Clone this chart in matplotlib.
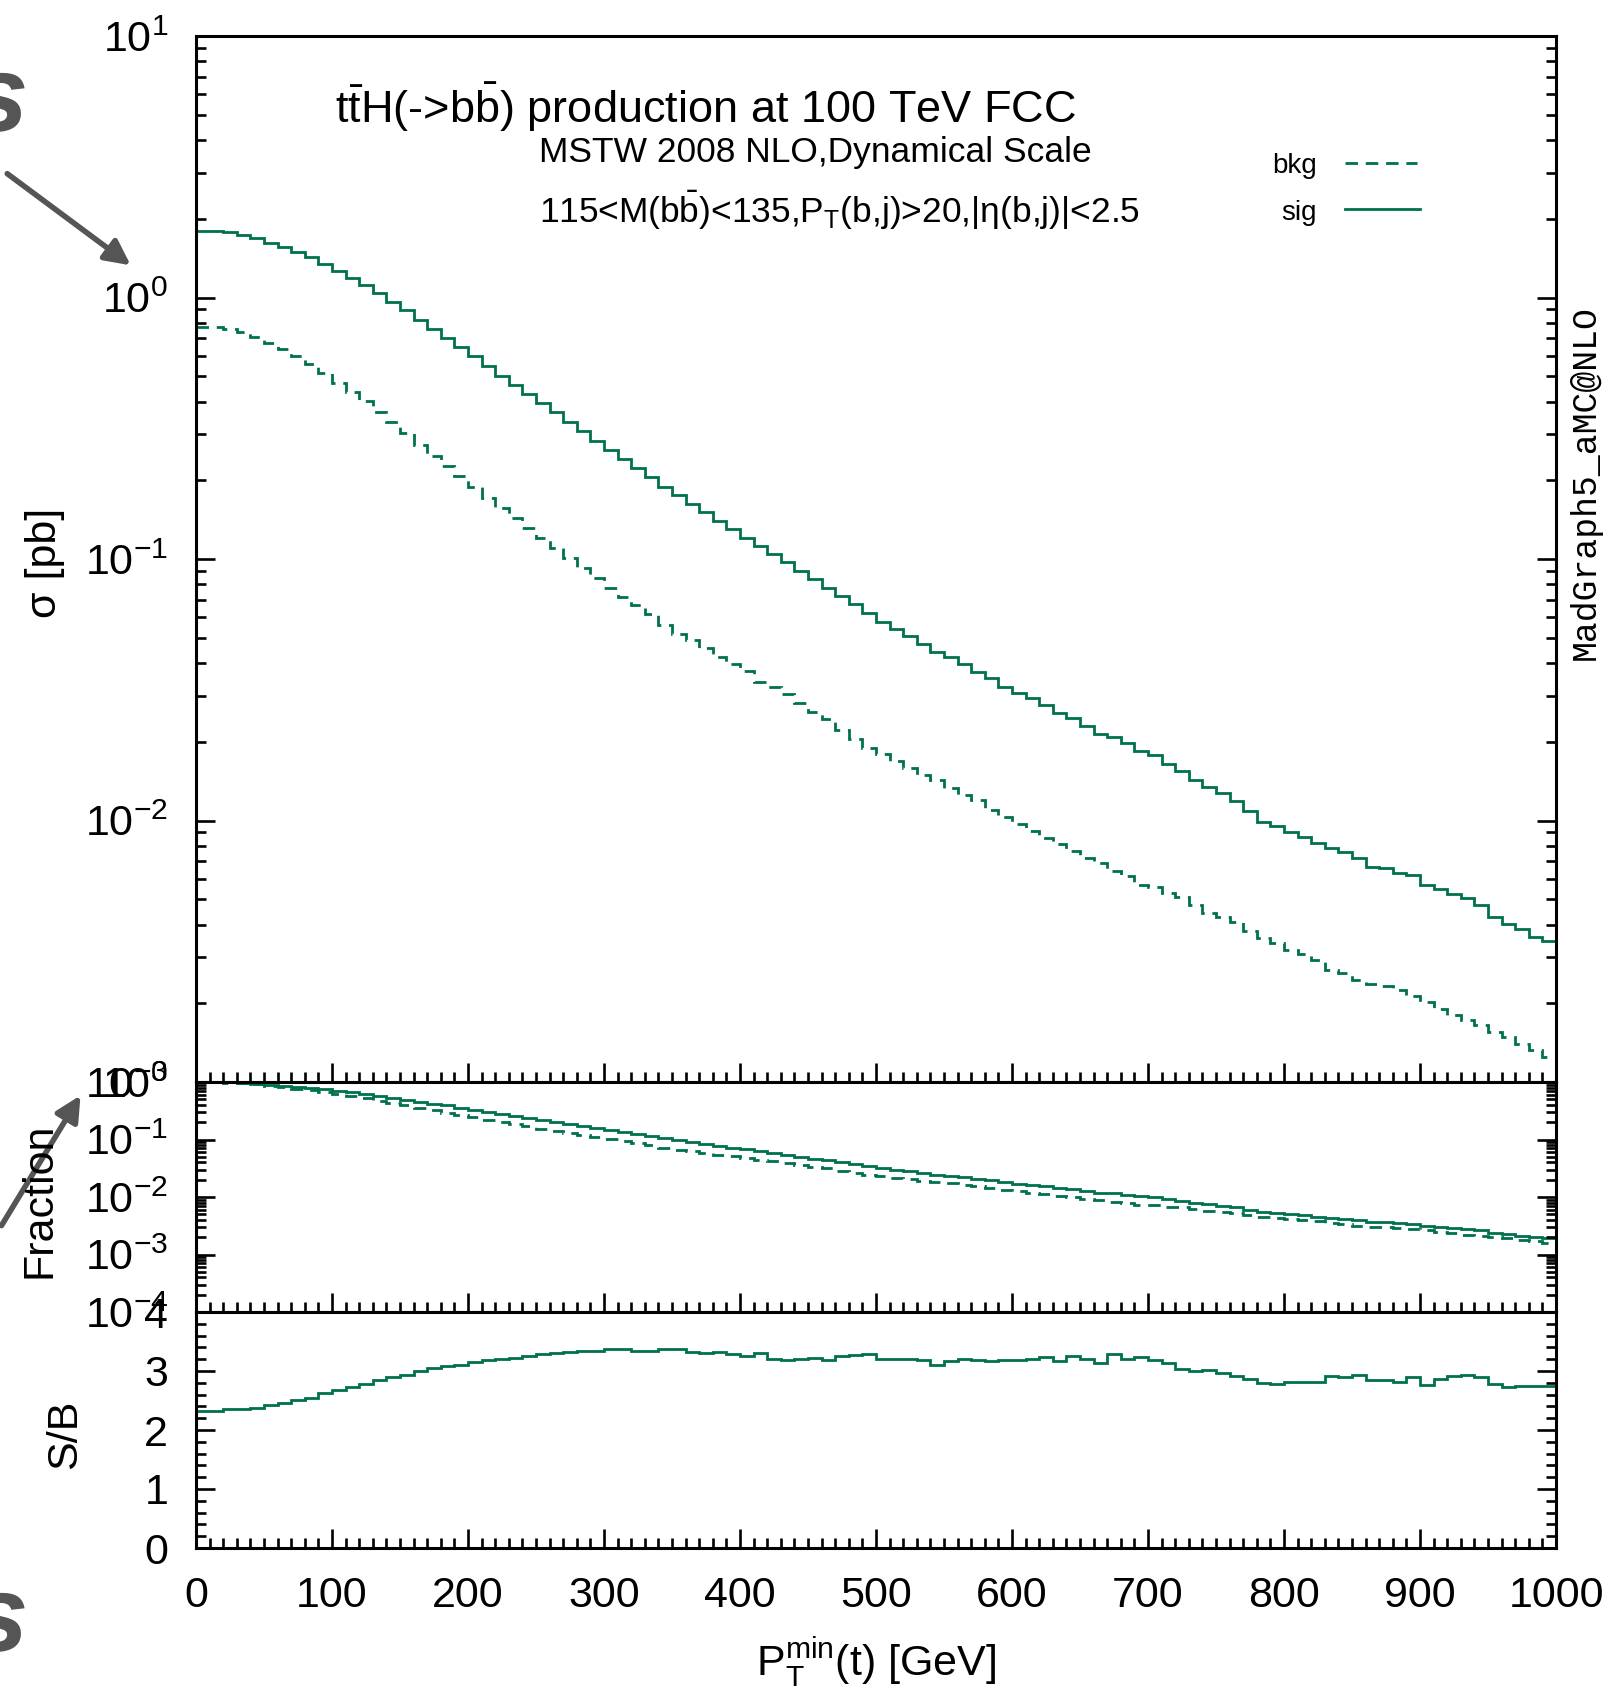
import numpy as np
import matplotlib
matplotlib.use('Agg')
import matplotlib.pyplot as plt
from matplotlib.ticker import MultipleLocator, LogLocator, NullFormatter
from matplotlib.patches import FancyArrowPatch

# cumulative cross sections sigma(pT > pT_min), 10 GeV bins from 0 to 1000
bin_edges = list(range(0, 1001, 10))

sig = [1.80, 1.794, 1.773, 1.739, 1.685, 1.620, 1.557, 1.498, 1.423, 1.342,
       1.265, 1.188, 1.116, 1.040, 0.965, 0.893, 0.822, 0.757, 0.703, 0.645,
       0.596, 0.547, 0.503, 0.462, 0.427, 0.395, 0.365, 0.335, 0.308, 0.283,
       0.262, 0.242, 0.223, 0.205, 0.189, 0.175, 0.1622, 0.1507, 0.1400, 0.1301,
       0.1208, 0.1122, 0.1042, 0.0970, 0.0901, 0.0837, 0.0778, 0.0723, 0.0671, 0.0624,
       0.0576, 0.0539, 0.0507, 0.0472, 0.0442, 0.0421, 0.0397, 0.0371, 0.0350, 0.0325,
       0.0308, 0.0293, 0.0277, 0.0258, 0.0247, 0.0229, 0.0215, 0.0209, 0.0197, 0.0185,
       0.0178, 0.0165, 0.0154, 0.0143, 0.0134, 0.0127, 0.0119, 0.01087, 0.00985, 0.00950,
       0.00907, 0.00861, 0.00819, 0.00783, 0.00760, 0.00716, 0.00665, 0.00659, 0.00630, 0.00621,
       0.00567, 0.00547, 0.00522, 0.00507, 0.00477, 0.00427, 0.00403, 0.00383, 0.00357, 0.00345]

bkg = [0.774, 0.771, 0.755, 0.736, 0.708, 0.669, 0.636, 0.596, 0.557, 0.513,
       0.472, 0.436, 0.402, 0.366, 0.333, 0.304, 0.274, 0.248, 0.2275, 0.207,
       0.188, 0.171, 0.1567, 0.1433, 0.1310, 0.1200, 0.1105, 0.1007, 0.0923, 0.0846,
       0.0775, 0.0717, 0.0668, 0.0614, 0.0560, 0.0518, 0.0488, 0.0455, 0.0422, 0.0396,
       0.0372, 0.0340, 0.0324, 0.0304, 0.0282, 0.0260, 0.0244, 0.0222, 0.0205, 0.0190,
       0.01800, 0.01685, 0.01588, 0.01496, 0.01430, 0.01335, 0.01251, 0.01196, 0.01100, 0.01030,
       0.00971, 0.00914, 0.00856, 0.00816, 0.00764, 0.00720, 0.00689, 0.00639, 0.00611, 0.00567,
       0.00559, 0.00527, 0.00511, 0.00477, 0.00444, 0.00427, 0.00409, 0.00379, 0.00354, 0.00340,
       0.00320, 0.00308, 0.00293, 0.00269, 0.00261, 0.00245, 0.00237, 0.00233, 0.00224, 0.00213,
       0.00203, 0.00191, 0.00180, 0.00172, 0.00165, 0.00155, 0.00148, 0.00140, 0.00132, 0.00125]

sb = [2.33, 2.33, 2.35, 2.36, 2.38, 2.42, 2.45, 2.51, 2.55, 2.62,
      2.68, 2.73, 2.78, 2.84, 2.90, 2.94, 3.00, 3.05, 3.09, 3.11,
      3.16, 3.19, 3.21, 3.22, 3.26, 3.29, 3.30, 3.33, 3.34, 3.34,
      3.37, 3.37, 3.34, 3.34, 3.37, 3.37, 3.33, 3.31, 3.32, 3.28,
      3.25, 3.30, 3.21, 3.19, 3.20, 3.22, 3.19, 3.25, 3.27, 3.29,
      3.21, 3.20, 3.20, 3.18, 3.11, 3.17, 3.20, 3.18, 3.17, 3.18,
      3.19, 3.21, 3.24, 3.17, 3.25, 3.20, 3.14, 3.28, 3.20, 3.23,
      3.19, 3.14, 3.03, 3.00, 3.01, 2.97, 2.91, 2.87, 2.80, 2.78,
      2.81, 2.81, 2.81, 2.91, 2.89, 2.93, 2.84, 2.84, 2.81, 2.90,
      2.77, 2.86, 2.91, 2.93, 2.90, 2.78, 2.73, 2.75, 2.74, 2.75]

x_ticks = [0, 100, 200, 300, 400, 500, 600, 700, 800, 900, 1000]

plt.rcParams['font.family'] = ['Liberation Sans', 'DejaVu Sans']
plt.rcParams['mathtext.fontset'] = 'custom'
plt.rcParams['mathtext.rm'] = 'Liberation Sans'
plt.rcParams['mathtext.it'] = 'Liberation Sans'
plt.rcParams['mathtext.bf'] = 'Liberation Sans:bold'
plt.rcParams['mathtext.default'] = 'regular'

W, H = 1616, 1691
green = '#00714f'
grey = '#555555'
dash = (0, (4.5, 2.8))


def fx(x):
    return x / W


def fy(y):
    return 1 - y / H


def axbox(top, bottom, left=196, right=1556):
    return [fx(left), fy(bottom), (right - left) / W, (bottom - top) / H]


def style_axis(ax):
    for s in ax.spines.values():
        s.set_linewidth(2.2)
    ax.tick_params(which='both', direction='in', top=False, right=True,
                   width=1.9, labelsize=31, pad=20)
    ax.tick_params(which='major', length=14)
    ax.tick_params(which='minor', length=7)
    ax.set_xlim(0, 1000)
    ax.set_xticks(x_ticks)
    ax.xaxis.set_minor_locator(MultipleLocator(10))


fig = plt.figure(figsize=(W / 100, H / 100), dpi=100)

# main panel
ax1 = fig.add_axes(axbox(36, 1082))
ax1.stairs(bkg, bin_edges, baseline=None, color=green, lw=2.0, linestyle=dash)
ax1.stairs(sig, bin_edges, baseline=None, color=green, lw=2.0)
ax1.set_yscale('log')
ax1.set_ylim(1e-3, 10)
style_axis(ax1)
ax1.yaxis.set_major_locator(LogLocator(base=10, numticks=10))
ax1.yaxis.set_minor_locator(LogLocator(base=10, subs=np.arange(2, 10), numticks=50))
ax1.yaxis.set_minor_formatter(NullFormatter())
ax1.tick_params(labelbottom=False)

# fraction panel
sig_frac = np.array(sig) / sig[0]
bkg_frac = np.array(bkg) / bkg[0]
ax2 = fig.add_axes(axbox(1082, 1312))
ax2.stairs(bkg_frac, bin_edges, baseline=None, color=green, lw=2.0, linestyle=dash)
ax2.stairs(sig_frac, bin_edges, baseline=None, color=green, lw=2.0)
ax2.set_yscale('log')
ax2.set_ylim(1e-4, 1)
style_axis(ax2)
ax2.yaxis.set_major_locator(LogLocator(base=10, numticks=10))
ax2.yaxis.set_minor_locator(LogLocator(base=10, subs=np.arange(2, 10), numticks=50))
ax2.yaxis.set_minor_formatter(NullFormatter())
ax2.tick_params(labelbottom=False)

# S/B panel
ax3 = fig.add_axes(axbox(1312, 1548))
ax3.stairs(sb, bin_edges, baseline=None, color=green, lw=2.0)
ax3.set_ylim(0, 4)
style_axis(ax3)
ax3.yaxis.set_major_locator(MultipleLocator(1))
ax3.yaxis.set_minor_locator(MultipleLocator(0.2))

# axis labels
fig.text(fx(45), fy(563), 'σ [pb]', rotation=90, fontsize=31, ha='center', va='center')
fig.text(fx(39), fy(1200), 'Fraction', rotation=90, fontsize=31, ha='center', va='center')
fig.text(fx(65), fy(1434), 'S/B', rotation=90, fontsize=31, ha='center', va='center')
fig.text(fx(876), fy(1675), r'P$_T^{min}$(t) [GeV]', fontsize=31, ha='center', va='baseline')

# title lines
fig.text(fx(335), fy(123), r't$\bar{t}$H(->b$\bar{b}$) production at 100 TeV FCC',
         fontsize=32.5, ha='left', va='baseline')
fig.text(fx(539), fy(162), 'MSTW 2008 NLO,Dynamical Scale',
         fontsize=25.5, ha='left', va='baseline')
fig.text(fx(539), fy(223), r'115<M(b$\bar{b}$)<135,P$_T$(b,j)>20,|η(b,j)|<2.5',
         fontsize=25.5, ha='left', va='baseline')

# legend drawn by hand, gnuplot style
fig.text(fx(1317), fy(173), 'bkg', fontsize=20, ha='right', va='baseline')
fig.text(fx(1317), fy(220), 'sig', fontsize=20, ha='right', va='baseline')
fig.add_artist(plt.Line2D([fx(1345), fx(1417)], [fy(163), fy(163)],
                          color=green, lw=2.0, linestyle=dash))
fig.add_artist(plt.Line2D([fx(1345), fx(1420)], [fy(209), fy(209)],
                          color=green, lw=2.0))

fig.text(fx(1585), fy(483), 'MadGraph5_aMC@NLO', family='Liberation Mono',
         fontsize=25, rotation=90, ha='center', va='center')

# leftover slide decorations at the edge
fig.text(fx(-2), fy(103), 's', fontsize=78, fontweight='bold', style='italic',
         color=grey, ha='center', va='center')
fig.text(fx(-2), fy(1623), 's', fontsize=78, fontweight='bold', style='italic',
         color=grey, ha='center', va='center')
for (x0, y0), (x1, y1) in [((5, 172), (133, 267)), ((0, 1228), (82, 1093))]:
    fig.add_artist(FancyArrowPatch((fx(x0), fy(y0)), (fx(x1), fy(y1)),
                                   transform=fig.transFigure, arrowstyle='-|>',
                                   mutation_scale=38, color=grey, lw=4))

fig.savefig('out.png', dpi=100)
